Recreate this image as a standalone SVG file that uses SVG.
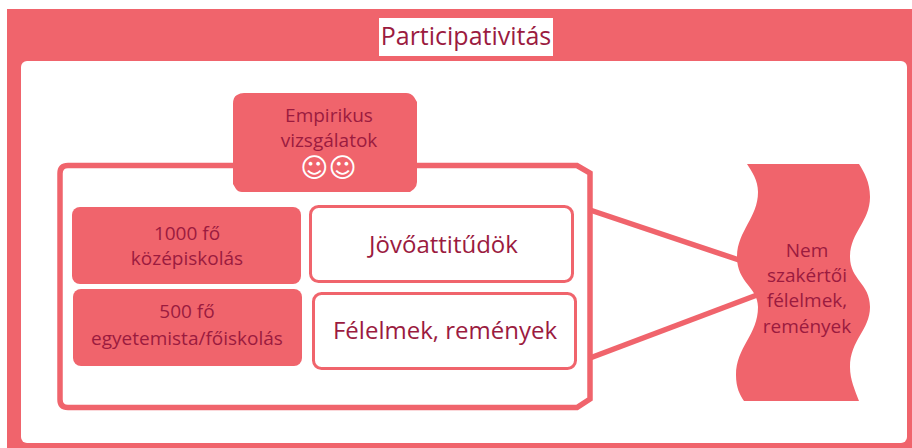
<svg xmlns="http://www.w3.org/2000/svg" width="912" height="448" viewBox="0 0 912 448">
<style>
.t{font-family:"Open Sans","Liberation Sans",sans-serif;fill:#9B1B3F;text-anchor:middle}
.s{font-size:19px}
.m{font-size:24px}
.red{fill:#F0646C}
.ob{fill:#fff;stroke:#F0646C;stroke-width:3}
.ln{stroke:#F0646C;stroke-width:5.5;fill:none}
</style>
<g id="background">
<rect x="7" y="9" width="905" height="439" class="red"/>
<rect x="21" y="61" width="886" height="382" rx="6" fill="#fff"/>
</g>
<g id="title">
<rect x="379" y="18" width="174" height="38" fill="#fff"/>
<text x="466" y="45" class="t" style="font-size:25px">Participativitás</text>
</g>
<g id="connectors">
<line x1="590" y1="210" x2="742" y2="261" class="ln"/>
<line x1="590" y1="358" x2="757" y2="295" class="ln"/>
</g>
<g id="container">
<path d="M68,165.5 L577,165.5 L590,173 L590,399 L577,407.5 L68,407.5 Q60,407.5 60,399.5 L60,173.5 Q60,165.5 68,165.5 Z" class="ln"/>
</g>
<g id="empirikus">
<path d="M244,93 L406,93 Q411,93 414,97 L417,102 L417,182 Q417,186 414,189 L410,192 L242,192 Q238,192 236,189 L233,184 L233,104 Q233,97 237,95 Q240,93 244,93 Z" class="red"/>
<text x="329" y="122" class="t s">Empirikus</text>
<text x="329" y="147" class="t s">vizsgálatok</text>
<text x="328.5" y="177" style="font-family:'DejaVu Sans',sans-serif;font-size:27px;fill:#fff;text-anchor:middle">☺☺</text>
</g>
<g id="n1000">
<rect x="72" y="207" width="229" height="77" rx="8" class="red"/>
<text x="187" y="240" class="t s">1000 fő</text>
<text x="187" y="265" class="t s">középiskolás</text>
</g>
<g id="n500">
<rect x="73" y="289" width="229" height="77" rx="8" class="red"/>
<text x="187" y="318" class="t s">500 fő</text>
<text x="187" y="345" class="t s">egyetemista/főiskolás</text>
</g>
<g id="jovo">
<rect x="310.5" y="206.5" width="262" height="75" rx="8" class="ob"/>
<text x="443.5" y="253" class="t m">Jövőattitűdök</text>
</g>
<g id="felelmek">
<rect x="313.5" y="293.5" width="262" height="75" rx="8" class="ob"/>
<text x="445" y="339" class="t m">Félelmek, remények</text>
</g>
<g id="nem">
<path d="M747,164 C752,172 758,180 758,192 C758,218 737,231 737,257 C737,283 758,287 758,307 C758,335 736,347 736,375 C736,388 740,395 744,401 L859,401 C855,390 850,380 850,367 C850,340 870,330 870,307 C870,283 850,280 850,257 C850,232 870,222 870,197 C870,182 864,172 859,164 Z" class="red"/>
<text x="807" y="257" class="t s">Nem</text>
<text x="807" y="282" class="t s">szakértői</text>
<text x="807" y="307" class="t s">félelmek,</text>
<text x="807" y="333" class="t s">remények</text>
</g>
</svg>
